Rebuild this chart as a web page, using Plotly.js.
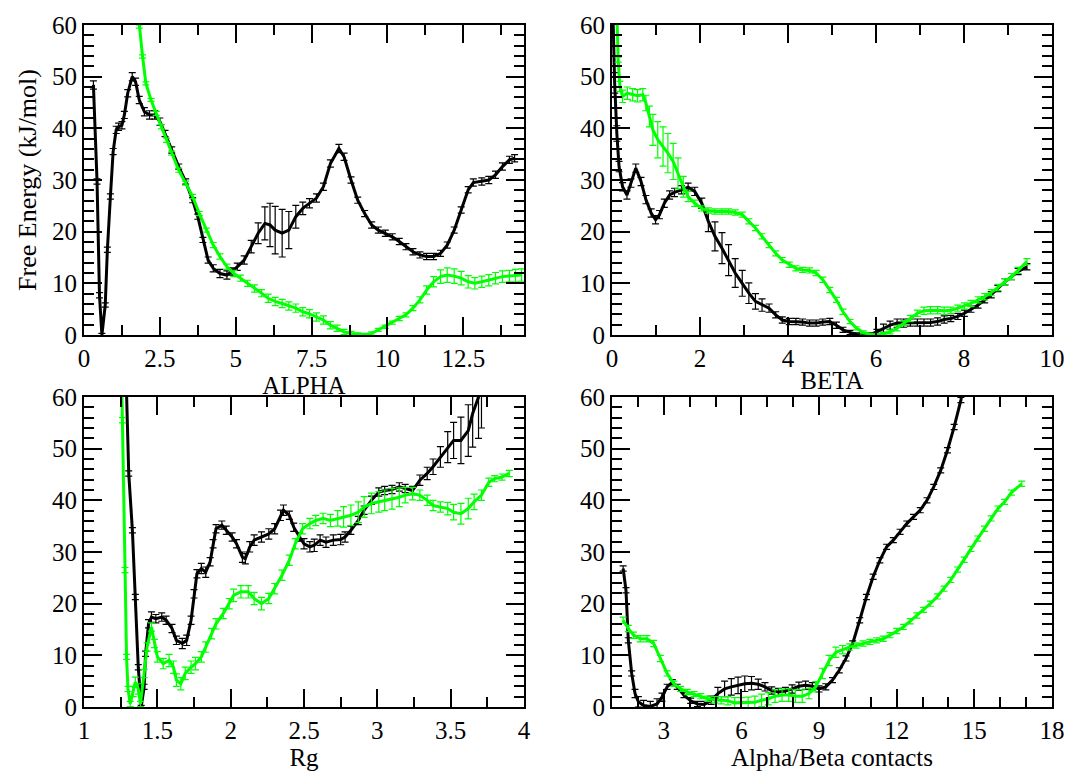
<!DOCTYPE html>
<html>
<head>
<meta charset="utf-8">
<script src="https://cdn.plot.ly/plotly-3.0.1.min.js"></script>
<style>
  html, body { margin: 0; padding: 0; background: #ffffff; }
  #chart { width: 1069px; height: 772px; }
</style>
</head>
<body>
<div id="chart"></div>
<script>
// Free-energy profiles (kJ/mol) along four collective variables, two runs each

// ---- ALPHA ----
const alphaBlackX = [0.31,0.43,0.51,0.59,0.70,0.77,0.87,0.96,1.06,1.14,1.25,1.33,1.44,1.59,1.70,1.82,1.99,2.16,2.33,2.50,2.67,2.89,3.12,3.35,3.58,3.75,3.92,4.09,4.26,4.48,4.71,4.88,5.05,5.28,5.51,5.74,5.96,6.13,6.30,6.53,6.75,6.98,7.21,7.43,7.66,7.89,8.12,8.40,8.57,8.80,9.02,9.25,9.48,9.70,9.93,10.16,10.39,10.61,10.84,11.07,11.29,11.52,11.75,11.97,12.20,12.43,12.66,12.83,13.11,13.34,13.56,13.79,14.02,14.19];
const alphaBlackY = [48.4,29.7,7.7,0,5.8,16.5,26.8,35.5,39.7,40.3,40.6,42.6,46.8,50.0,49.0,45.5,43.2,42.6,42.6,41.3,39.0,35.8,32.6,29.7,26.1,22.9,18.4,14.5,12.9,11.9,11.6,12.3,13.2,14.5,17.1,19.7,21.6,21.3,20.3,19.7,20.3,22.9,24.5,25.5,26.5,28.7,33.2,36.1,34.5,30.0,26.1,23.5,21.3,20.3,19.7,19.0,18.1,17.1,16.1,15.5,15.2,15.2,15.8,17.4,20.3,24.2,28.1,29.5,29.7,30.0,31.0,32.6,33.9,34.2];
const alphaBlackErr = [0.8,0.5,0.5,0.3,0.4,0.5,0.5,0.6,0.7,0.7,0.7,0.7,0.7,0.8,0.7,0.7,0.8,0.8,0.8,0.7,0.6,0.6,0.5,0.5,0.5,0.5,0.5,0.6,0.7,0.8,0.8,0.7,0.7,0.8,1.2,2.0,3.2,4.2,4.6,4.6,3.6,2.2,1.2,0.9,0.8,0.7,0.7,0.8,0.7,0.6,0.6,0.6,0.6,0.6,0.6,0.6,0.6,0.6,0.6,0.6,0.6,0.6,0.6,0.6,0.6,0.6,0.6,0.7,0.7,0.7,0.7,0.7,0.7,0.7];

const alphaGreenX = [1.72,1.82,1.93,2.04,2.21,2.38,2.55,2.72,2.89,3.12,3.35,3.58,3.80,4.03,4.26,4.48,4.71,4.94,5.16,5.39,5.62,5.85,6.07,6.30,6.53,6.75,6.98,7.21,7.43,7.66,7.89,8.12,8.34,8.57,8.80,9.02,9.25,9.48,9.70,9.93,10.16,10.39,10.61,10.84,11.07,11.29,11.52,11.75,11.97,12.20,12.43,12.66,12.88,13.11,13.34,13.56,13.79,14.02,14.22,14.42];
const alphaGreenY = [66,59.7,53.9,48.7,45.5,42.9,40.3,37.7,35.2,31.9,29.4,26.8,23.5,20.3,17.4,15.2,13.2,11.9,11.0,10.0,9.0,8.1,7.1,6.5,6.1,5.6,5.2,4.5,4.1,3.5,2.9,1.9,1.3,0.6,0.3,0.1,0,0.3,1.0,1.6,2.4,3.2,3.9,5.2,6.8,8.7,10.3,11.3,11.6,11.4,11.0,10.3,10.0,10.3,10.6,11.0,11.3,11.4,11.5,11.6];
const alphaGreenErr = [0.3,0.3,0.3,0.3,0.3,0.4,0.4,0.4,0.4,0.4,0.4,0.4,0.4,0.4,0.5,0.5,0.5,0.6,0.6,0.6,0.7,0.7,0.8,0.8,0.8,0.8,0.8,0.8,0.8,0.8,0.8,0.7,0.6,0.5,0.4,0.3,0.3,0.3,0.3,0.3,0.3,0.4,0.4,0.5,0.6,0.8,1.0,1.3,1.4,1.4,1.3,1.2,1.1,1.1,1.1,1.1,1.1,1.1,1.2,1.2];

// ---- BETA ----
const betaBlackX = [0.01,0.06,0.11,0.16,0.24,0.34,0.43,0.54,0.66,0.77,0.89,0.99,1.08,1.19,1.31,1.42,1.58,1.73,1.88,2.04,2.19,2.34,2.50,2.65,2.80,2.96,3.11,3.26,3.41,3.57,3.72,3.87,4.03,4.18,4.33,4.49,4.64,4.79,4.95,5.10,5.25,5.41,5.56,5.71,5.87,6.02,6.17,6.32,6.48,6.63,6.78,6.94,7.09,7.24,7.40,7.55,7.70,7.86,8.01,8.16,8.32,8.47,8.62,8.77,8.93,9.08,9.23,9.43];
const betaBlackY = [66,48.8,39.0,32.6,28.7,27.1,29.4,32.3,29.7,26.2,23.6,22.3,23.3,25.5,27.1,27.6,28.1,28.6,27.8,25.5,22.0,19.1,16.8,14.5,12.0,10.0,8.1,6.5,5.8,5.2,3.9,2.9,2.6,2.6,2.5,2.3,2.3,2.5,2.6,1.9,1.0,0.5,0.1,0,0.1,0.6,1.3,1.9,2.3,2.3,2.4,2.4,2.4,2.4,2.6,3.0,3.2,3.6,4.2,5.0,5.8,6.8,7.8,9.0,10.3,11.3,12.3,13.2];
const betaBlackErr = [3.0,2.0,1.5,1.0,0.8,0.8,0.8,0.8,0.8,0.8,0.8,0.8,0.8,0.8,0.8,0.8,0.8,0.8,0.8,1.0,2.0,2.8,3.0,3.0,2.8,2.5,2.0,1.5,1.2,0.8,0.6,0.6,0.6,0.6,0.6,0.6,0.6,0.6,0.6,0.6,0.5,0.4,0.3,0.3,0.3,0.5,0.8,0.8,0.8,0.8,0.7,0.7,0.7,0.7,0.7,0.7,0.6,0.6,0.6,0.6,0.6,0.6,0.6,0.6,0.6,0.6,0.6,0.6];

const betaGreenX = [0.10,0.14,0.18,0.24,0.35,0.47,0.58,0.70,0.77,0.85,0.93,1.04,1.16,1.27,1.39,1.50,1.62,1.73,1.88,2.04,2.19,2.34,2.50,2.65,2.80,2.96,3.11,3.26,3.41,3.57,3.72,3.87,4.03,4.18,4.33,4.49,4.64,4.79,4.95,5.10,5.25,5.41,5.56,5.71,5.87,6.02,6.17,6.32,6.48,6.63,6.78,6.94,7.09,7.24,7.40,7.55,7.70,7.86,8.01,8.16,8.32,8.47,8.62,8.77,8.93,9.08,9.23,9.43];
const betaGreenY = [66,53.3,48.1,46.2,46.8,46.5,46.3,46.5,44.9,42.3,39.7,37.8,36.5,35.2,33.6,31.3,28.7,26.8,25.5,24.5,24.1,23.9,23.9,23.9,23.7,23.3,22.0,20.7,19.1,17.4,15.8,14.5,13.6,12.9,12.6,12.5,12.0,10.7,8.7,6.8,4.5,2.6,1.3,0.5,0.1,0,0.2,0.6,1.3,2.3,3.2,4.2,4.7,4.8,4.8,4.7,4.8,5.2,5.6,6.1,6.8,7.4,8.2,9.2,10.3,11.3,12.5,14.2];
const betaGreenErr = [0.5,0.5,1.0,1.2,1.2,1.2,1.2,1.2,1.5,2.0,3.0,3.5,3.8,3.8,3.5,3.0,2.0,1.0,0.6,0.5,0.5,0.5,0.5,0.5,0.5,0.5,0.5,0.5,0.5,0.5,0.5,0.5,0.5,0.5,0.5,0.5,0.5,0.5,0.5,0.5,0.5,0.4,0.3,0.3,0.2,0.2,0.3,0.4,0.5,0.5,0.6,0.6,0.7,0.7,0.7,0.7,0.6,0.6,0.6,0.6,0.6,0.6,0.6,0.6,0.6,0.6,0.6,0.6];

// ---- Rg ----
const rgBlackX = [1.285,1.305,1.33,1.35,1.37,1.39,1.41,1.42,1.44,1.46,1.49,1.53,1.56,1.60,1.63,1.67,1.70,1.73,1.75,1.77,1.80,1.83,1.86,1.88,1.90,1.94,1.97,2.01,2.04,2.08,2.10,2.13,2.16,2.21,2.26,2.30,2.34,2.36,2.40,2.43,2.47,2.50,2.54,2.57,2.61,2.65,2.70,2.75,2.78,2.82,2.87,2.91,2.96,3.01,3.05,3.10,3.15,3.19,3.24,3.29,3.34,3.38,3.43,3.48,3.52,3.57,3.62,3.65,3.69,3.71];
const rgBlackY = [66,45.2,34.2,21.3,7.7,0,3.9,10.3,16.1,17.4,17.1,17.4,16.8,15.2,12.9,12.3,12.9,16.8,21.9,25.8,26.8,26.1,28.1,31.6,34.5,35.2,34.2,32.9,31.6,29.0,28.7,31.0,32.3,32.9,33.5,34.5,37.1,38.1,37.1,34.8,32.9,31.6,31.0,31.3,32.3,31.9,32.3,32.4,32.9,34.2,36.1,38.1,40.0,41.6,41.9,42.1,42.6,42.3,41.9,43.9,45.2,46.5,48.4,50.3,51.6,51.6,53.5,56.8,60.0,63.0];
const rgBlackErr = [0.5,0.5,0.5,0.5,0.5,0.3,0.5,0.5,0.8,1.0,0.8,0.8,0.8,0.8,0.8,1.0,1.0,0.8,0.8,0.8,1.0,1.0,0.8,0.8,0.8,0.8,0.8,0.8,0.8,1.0,1.0,1.0,1.0,1.0,1.0,1.0,1.0,1.0,0.8,0.8,0.8,1.0,1.0,1.2,1.0,1.0,1.0,1.0,1.0,0.8,0.8,0.8,0.8,0.8,0.8,0.8,0.8,0.8,0.8,1.0,1.2,1.5,2.0,3.0,3.5,4.5,5.0,6.5,8.0,9.0];

const rgGreenX = [1.255,1.263,1.28,1.29,1.30,1.315,1.335,1.35,1.37,1.385,1.41,1.43,1.46,1.48,1.50,1.54,1.58,1.61,1.63,1.66,1.69,1.73,1.76,1.80,1.83,1.87,1.90,1.95,1.99,2.02,2.07,2.12,2.16,2.21,2.26,2.30,2.35,2.40,2.44,2.49,2.54,2.58,2.63,2.68,2.73,2.77,2.82,2.87,2.91,2.96,3.01,3.05,3.10,3.15,3.19,3.24,3.29,3.34,3.38,3.43,3.48,3.52,3.57,3.62,3.66,3.71,3.76,3.80,3.85,3.90];
const rgGreenY = [66,55.5,26.5,9.7,3.5,0.6,3.0,4.8,3.5,0.6,6.5,11.6,15.5,12.3,9.7,8.4,9.0,7.7,5.2,4.5,6.5,7.7,8.4,9.7,11.6,14.2,16.1,18.1,20.0,21.6,22.3,22.3,21.0,20.0,21.0,22.9,25.5,28.4,31.6,34.5,35.5,36.1,36.5,36.1,36.5,36.8,37.1,37.7,38.7,39.4,39.7,40.0,40.3,40.6,41.0,41.3,41.0,40.0,39.0,38.7,38.4,37.7,37.4,38.4,39.7,41.0,43.5,44.2,44.5,45.2];
const rgGreenErr = [0.5,0.5,0.5,0.5,0.5,0.5,1.0,1.0,1.0,0.5,0.8,0.8,0.8,0.8,1.0,1.0,1.2,1.2,1.2,1.2,1.2,1.2,1.2,1.0,1.0,1.0,1.0,1.0,1.0,1.2,1.2,1.2,1.2,1.2,1.0,1.0,1.0,1.0,1.0,1.0,1.0,1.0,1.0,1.2,1.5,2.0,2.0,2.0,2.0,2.0,2.0,2.0,2.0,1.8,1.5,1.2,1.0,1.0,1.0,1.0,1.2,1.5,2.0,2.0,1.5,1.0,0.8,0.6,0.6,0.6];

// ---- Alpha/Beta contacts ----
const contBlackX = [1.43,1.54,1.63,1.76,1.89,2.02,2.22,2.48,2.74,2.93,3.13,3.33,3.52,3.78,4.04,4.30,4.57,4.83,5.09,5.35,5.61,5.87,6.13,6.39,6.65,6.91,7.17,7.43,7.70,7.96,8.22,8.48,8.74,9.00,9.26,9.52,9.78,10.04,10.30,10.57,10.83,11.09,11.35,11.61,11.87,12.13,12.39,12.65,12.91,13.17,13.43,13.70,13.96,14.22,14.48,14.60];
const contBlackY = [26.8,22.6,12.9,6.5,2.6,1.0,0.3,0.1,0.6,1.9,3.9,4.8,3.9,2.3,1.2,0.6,0.5,1.3,2.6,3.5,3.9,4.2,4.5,4.6,4.4,3.9,3.2,2.9,3.1,3.5,4.0,4.2,4.0,3.5,3.9,5.2,7.1,9.4,12.3,16.8,21.3,25.2,28.4,31.0,32.3,33.9,35.5,36.8,38.1,40.0,42.6,45.8,49.7,54.2,59.4,63.0];
const contBlackErr = [0.5,0.5,0.5,0.5,0.8,1.0,1.0,1.0,1.0,0.8,0.5,0.5,0.5,0.5,0.5,0.5,0.6,0.8,1.2,1.5,1.6,1.6,1.5,1.3,1.0,0.8,0.7,0.7,0.7,0.8,0.8,0.8,0.7,0.6,0.6,0.5,0.5,0.5,0.5,0.5,0.5,0.5,0.5,0.5,0.5,0.5,0.5,0.5,0.5,0.5,0.5,0.5,0.5,0.5,0.5,0.5];

const contGreenX = [1.43,1.63,1.83,2.09,2.35,2.61,2.87,3.13,3.39,3.65,3.91,4.17,4.43,4.70,4.96,5.22,5.48,5.74,6.00,6.26,6.52,6.78,7.04,7.30,7.57,7.83,8.09,8.35,8.61,8.87,9.13,9.39,9.65,9.91,10.17,10.43,10.70,10.96,11.22,11.48,11.74,12.00,12.26,12.52,12.78,13.04,13.30,13.57,13.83,14.09,14.35,14.61,14.87,15.13,15.39,15.65,15.91,16.17,16.43,16.83];
const contGreenY = [16.8,15.2,13.9,13.2,13.2,12.3,9.4,6.5,4.5,3.5,2.9,2.5,2.1,1.6,1.4,1.3,1.2,0.8,0.8,0.8,0.9,1.3,1.6,2.1,2.3,2.3,2.1,2.1,2.6,3.9,6.5,9.0,10.6,11.1,11.6,11.9,12.3,12.6,12.9,13.2,13.9,14.7,15.5,16.6,17.7,18.8,20.0,21.4,22.9,24.6,26.6,28.5,30.6,32.6,34.5,36.5,38.4,39.7,41.5,43.2];
const contGreenErr = [0.6,0.6,0.6,0.6,0.6,0.6,0.6,0.5,0.5,0.5,0.5,0.5,0.5,0.5,0.6,0.7,0.8,1.0,1.0,1.1,1.2,1.2,1.2,1.2,1.2,1.2,1.2,1.2,1.0,1.0,1.0,1.0,1.0,0.8,0.6,0.5,0.5,0.5,0.5,0.5,0.5,0.5,0.5,0.5,0.5,0.5,0.5,0.5,0.5,0.5,0.5,0.5,0.5,0.5,0.5,0.5,0.5,0.5,0.5,0.5];

const xTitles = ['ALPHA', 'BETA', 'Rg', 'Alpha/Beta contacts'];
const yTitle = 'Free Energy (kJ/mol)';

const BLACK = '#000000';
const GREEN = '#00ff00';
const FONT = '"Liberation Serif", "Times New Roman", Times, serif';

function curve(x, y, err, color, xa, ya) {
  return {
    type: 'scatter', mode: 'lines', x: x, y: y,
    xaxis: xa, yaxis: ya,
    line: { color: color, width: 3 },
    error_y: { type: 'data', array: err, visible: true, color: color, thickness: 1.2, width: 3.5 },
    hoverinfo: 'skip', showlegend: false
  };
}

const data = [
  curve(alphaBlackX, alphaBlackY, alphaBlackErr, BLACK, 'x', 'y'),
  curve(alphaGreenX, alphaGreenY, alphaGreenErr, GREEN, 'x', 'y'),
  curve(betaBlackX, betaBlackY, betaBlackErr, BLACK, 'x2', 'y2'),
  curve(betaGreenX, betaGreenY, betaGreenErr, GREEN, 'x2', 'y2'),
  curve(rgBlackX, rgBlackY, rgBlackErr, BLACK, 'x3', 'y3'),
  curve(rgGreenX, rgGreenY, rgGreenErr, GREEN, 'x3', 'y3'),
  curve(contBlackX, contBlackY, contBlackErr, BLACK, 'x4', 'y4'),
  curve(contGreenX, contGreenY, contGreenErr, GREEN, 'x4', 'y4')
];

function minorTicks(step) {
  return { ticks: 'inside', ticklen: 10, tickwidth: 2, tickcolor: BLACK, dtick: step, showgrid: false };
}

function axis(extra) {
  return Object.assign({
    showline: true, linecolor: BLACK, linewidth: 2, mirror: 'allticks',
    ticks: 'inside', ticklen: 18, tickwidth: 2, tickcolor: BLACK,
    showgrid: false, zeroline: false, fixedrange: true,
    tickfont: { family: FONT, size: 25, color: BLACK }
  }, extra);
}

function xTitle(t) {
  return { text: t, font: { family: FONT, size: 25, color: BLACK }, standoff: 0 };
}

const W = 1069, H = 772;
const colL = [84 / W, 524 / W], colR = [612 / W, 1052 / W];
const rowT = [1 - 335 / H, 1 - 25 / H], rowB = [1 - 707 / H, 1 - 397 / H];

const layout = {
  width: W, height: H,
  margin: { l: 0, r: 0, t: 0, b: 0 },
  paper_bgcolor: '#ffffff', plot_bgcolor: '#ffffff',
  font: { family: FONT, size: 25, color: BLACK },
  xaxis: axis({ domain: colL, anchor: 'y', range: [0, 14.5], dtick: 2.5, tick0: 0, minor: minorTicks(1.25), title: xTitle(xTitles[0]) }),
  yaxis: axis({ domain: rowT, anchor: 'x', range: [0, 60], dtick: 10, minor: minorTicks(2), title: { text: yTitle, font: { family: FONT, size: 26, color: BLACK }, standoff: 8 } }),
  xaxis2: axis({ domain: colR, anchor: 'y2', range: [0, 10], dtick: 2, tick0: 0, minor: minorTicks(1), title: xTitle(xTitles[1]) }),
  yaxis2: axis({ domain: rowT, anchor: 'x2', range: [0, 60], dtick: 10, minor: minorTicks(2) }),
  xaxis3: axis({ domain: colL, anchor: 'y3', range: [1, 4], dtick: 0.5, tick0: 1, minor: minorTicks(0.25), title: xTitle(xTitles[2]) }),
  yaxis3: axis({ domain: rowB, anchor: 'x3', range: [0, 60], dtick: 10, minor: minorTicks(2) }),
  xaxis4: axis({ domain: colR, anchor: 'y4', range: [1, 18], dtick: 3, tick0: 0, minor: minorTicks(1), title: xTitle(xTitles[3]) }),
  yaxis4: axis({ domain: rowB, anchor: 'x4', range: [0, 60], dtick: 10, minor: minorTicks(2) })
};

Plotly.newPlot('chart', data, layout, { staticPlot: true, displayModeBar: false });
</script>
</body>
</html>
